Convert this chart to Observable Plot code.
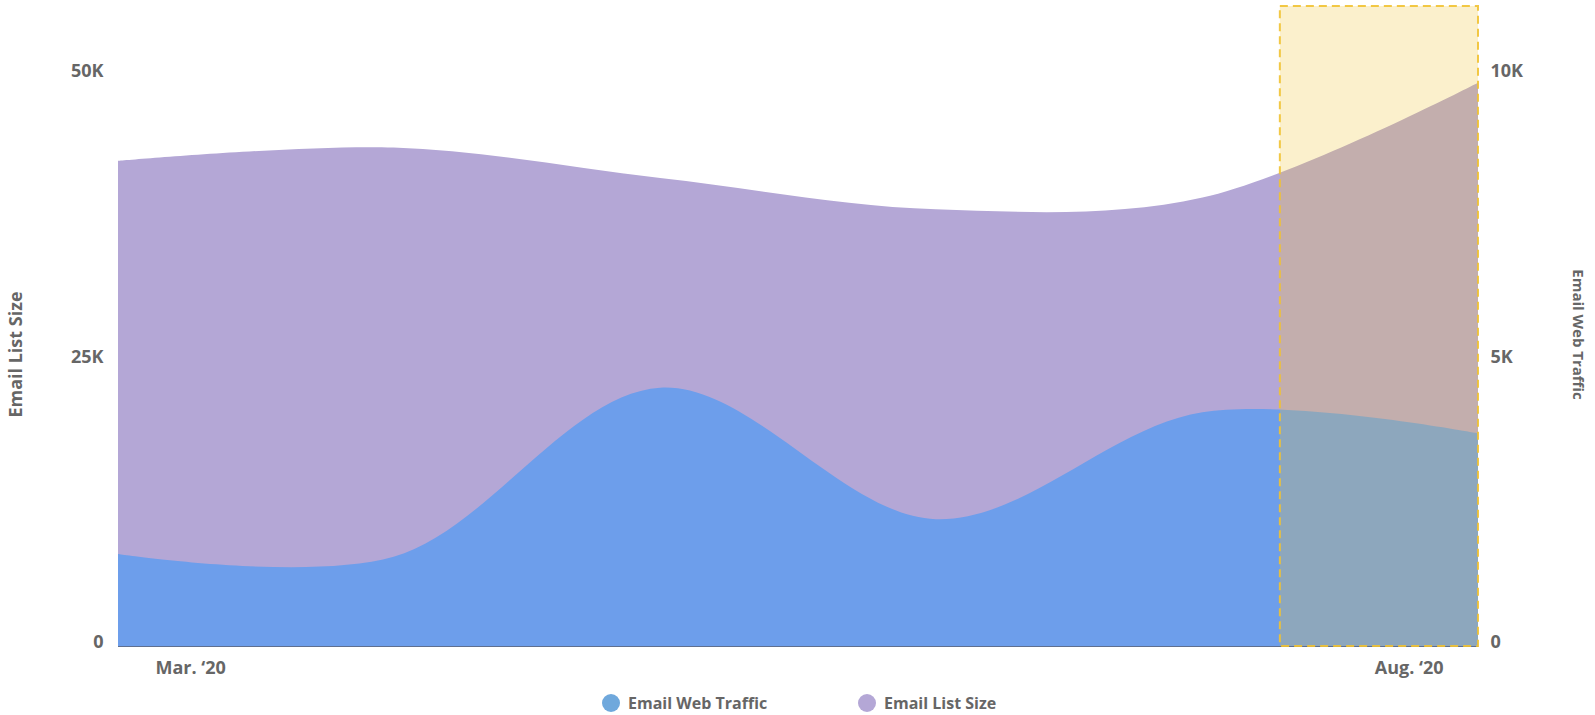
<!DOCTYPE html>
<html>
<head>
<meta charset="utf-8">
<script src="https://cdn.jsdelivr.net/npm/d3@7"></script>
<script src="https://cdn.jsdelivr.net/npm/@observablehq/plot@0.6"></script>
<style>
  html, body { margin: 0; padding: 0; background: #fff; }
  body { width: 1595px; height: 715px; position: relative; overflow: hidden; font-family: "Open Sans", sans-serif; }
  #legend { position: absolute; left: 0; top: 692px; width: 1595px; height: 22px; }
  .item { position: absolute; top: 0; height: 22px; display: flex; align-items: center; font-size: 16px; font-weight: 700; color: #666; }
  .sw { width: 18px; height: 18px; border-radius: 50%; margin-right: 8px; }
</style>
</head>
<body>
<div id="chart"></div>
<div id="legend">
  <div class="item" style="left:602px"><span class="sw" style="background:#6fa8dc"></span>Email Web Traffic</div>
  <div class="item" style="left:858px"><span class="sw" style="background:#b4a7d6"></span>Email List Size</div>
</div>
<script>
// monthly observations, Mar 2020 .. Aug 2020
const months = ["2020-03-01","2020-04-01","2020-05-01","2020-06-01","2020-07-01","2020-08-01"];
const listSize = [42440, 43610, 40950, 38210, 39240, 49290];
const webTraffic = [1610, 1560, 4520, 2220, 4090, 3720];
const leftTicks = [0, 25000, 50000];
const leftTickLabels = ["0", "25K", "50K"];
const rightTickLabels = ["0", "5K", "10K"];
const xLabels = ["Mar. \u201820", "Aug. \u201820"];
const highlightStart = "2020-07-09T17:00:00Z";
const highlightTop = 56000;
const ratio = 5; // right axis (web traffic) 10K == left axis 50K

const parse = d3.utcParse("%Y-%m-%d");
const data = months.map((d, i) => ({date: parse(d), list: listSize[i], web: webTraffic[i] * ratio}));
const first = data[0].date, last = data[data.length - 1].date;

const purple = "#b4a7d6", blue = "#6d9eeb", grey = "#666";
const font = "Open Sans, sans-serif";

const chart = Plot.plot({
  width: 1595,
  height: 684,
  marginLeft: 118,
  marginRight: 117,
  marginTop: 6,
  marginBottom: 38,
  style: {fontFamily: font, background: "transparent"},
  x: {type: "utc", domain: [first, last], axis: null},
  y: {domain: [0, 56000], axis: null},
  marks: [
    Plot.areaY(data, {x: "date", y: "list", fill: purple, curve: "catmull-rom"}),
    Plot.areaY(data, {x: "date", y: "web", fill: blue, curve: "catmull-rom"}),
    Plot.ruleY([0], {stroke: "#5f6f8f", strokeWidth: 1}),
    Plot.rect([{x1: new Date(highlightStart), x2: last, y1: 0, y2: highlightTop}], {
      x1: "x1", x2: "x2", y1: "y1", y2: "y2",
      fill: "#f1c232", fillOpacity: 0.25,
      stroke: "#f1c232", strokeOpacity: 0.9, strokeWidth: 2, strokeDasharray: "8,5"
    }),
    Plot.axisY(leftTicks, {anchor: "left", tickSize: 0, tickPadding: 15, dy: -4,
      tickFormat: (d, i) => leftTickLabels[i], fontSize: 18, fontWeight: 700, fill: grey, label: null}),
    Plot.axisY(leftTicks, {anchor: "right", tickSize: 0, tickPadding: 12, dy: -4,
      tickFormat: (d, i) => rightTickLabels[i], fontSize: 18, fontWeight: 700, fill: grey, label: null}),
    Plot.text([first], {x: d => d, text: [xLabels[0]], frameAnchor: "bottom", dy: 27, dx: 37,
      textAnchor: "start", fontSize: 18, fontWeight: 700, fill: grey}),
    Plot.text([last], {x: d => d, text: [xLabels[1]], frameAnchor: "bottom", dy: 27, dx: -35,
      textAnchor: "end", fontSize: 18, fontWeight: 700, fill: grey}),
    Plot.text(["Email List Size"], {frameAnchor: "left", textAnchor: "middle", dx: -102, dy: 28, rotate: -90,
      fontSize: 18, fontWeight: 700, fill: grey}),
    Plot.text(["Email Web Traffic"], {frameAnchor: "right", textAnchor: "middle", dx: 99, dy: 8, rotate: 90,
      fontSize: 15, fontWeight: 700, fill: grey})
  ]
});
document.getElementById("chart").appendChild(chart);
</script>
</body>
</html>
